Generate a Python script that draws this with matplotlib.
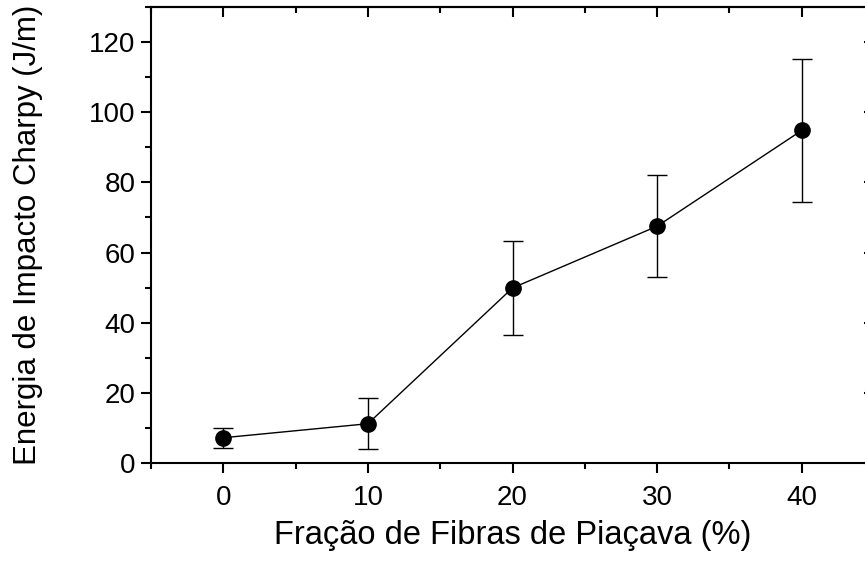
import matplotlib
matplotlib.use("Agg")
import matplotlib.pyplot as plt
from matplotlib.ticker import MultipleLocator

frac = [0, 10, 20, 30, 40]
energy = [7.2, 11.2, 49.9, 67.5, 94.8]
err = [2.9, 7.3, 13.3, 14.5, 20.5]

plt.rcParams['font.family'] = ['Liberation Sans', 'DejaVu Sans']

fig = plt.figure(figsize=(8.65, 5.62), dpi=100)
ax = fig.add_axes([151/865, (562-463)/562, (874-151)/865, (463-7)/562])

ax.errorbar(frac, energy, yerr=err, color='black', lw=1.0, marker='o',
            markersize=11, capsize=7, elinewidth=1.0, capthick=1.0)

ax.set_xlim(-5, 45)
ax.set_ylim(0, 130)
ax.xaxis.set_major_locator(MultipleLocator(10))
ax.xaxis.set_minor_locator(MultipleLocator(5))
ax.yaxis.set_major_locator(MultipleLocator(20))
ax.yaxis.set_minor_locator(MultipleLocator(10))

for s in ax.spines.values():
    s.set_linewidth(1.5)

ax.tick_params(axis='both', which='major', direction='out', length=7, width=1.5,
               labelsize=20, top=False, right=False)
ax.tick_params(axis='x', which='major', pad=9)
ax.tick_params(axis='y', which='major', pad=4)
ax.tick_params(axis='both', which='minor', direction='out', length=4, width=1.5,
               top=False, right=False)

# top and right inward ticks via secondary axes
axt = ax.secondary_xaxis('top')
axt.xaxis.set_major_locator(MultipleLocator(10))
axt.xaxis.set_minor_locator(MultipleLocator(5))
axt.tick_params(which='major', direction='in', length=7, width=1.5, labeltop=False)
axt.tick_params(which='minor', direction='in', length=4, width=1.5)
axt.spines['top'].set_linewidth(1.5)
axr = ax.secondary_yaxis('right')
axr.yaxis.set_major_locator(MultipleLocator(20))
axr.yaxis.set_minor_locator(MultipleLocator(10))
axr.tick_params(which='major', direction='in', length=7, width=1.5, labelright=False)
axr.tick_params(which='minor', direction='in', length=4, width=1.5)
axr.spines['right'].set_linewidth(1.5)

ax.set_xlabel('Fração de Fibras de Piaçava (%)', fontsize=23.5)
ax.xaxis.set_label_coords(0.5, -0.125)
ax.set_ylabel('Energia de Impacto Charpy (J/m)', fontsize=22.5)
ax.yaxis.set_label_coords(-0.15, 0.5)

fig.savefig('out.png', dpi=100)
